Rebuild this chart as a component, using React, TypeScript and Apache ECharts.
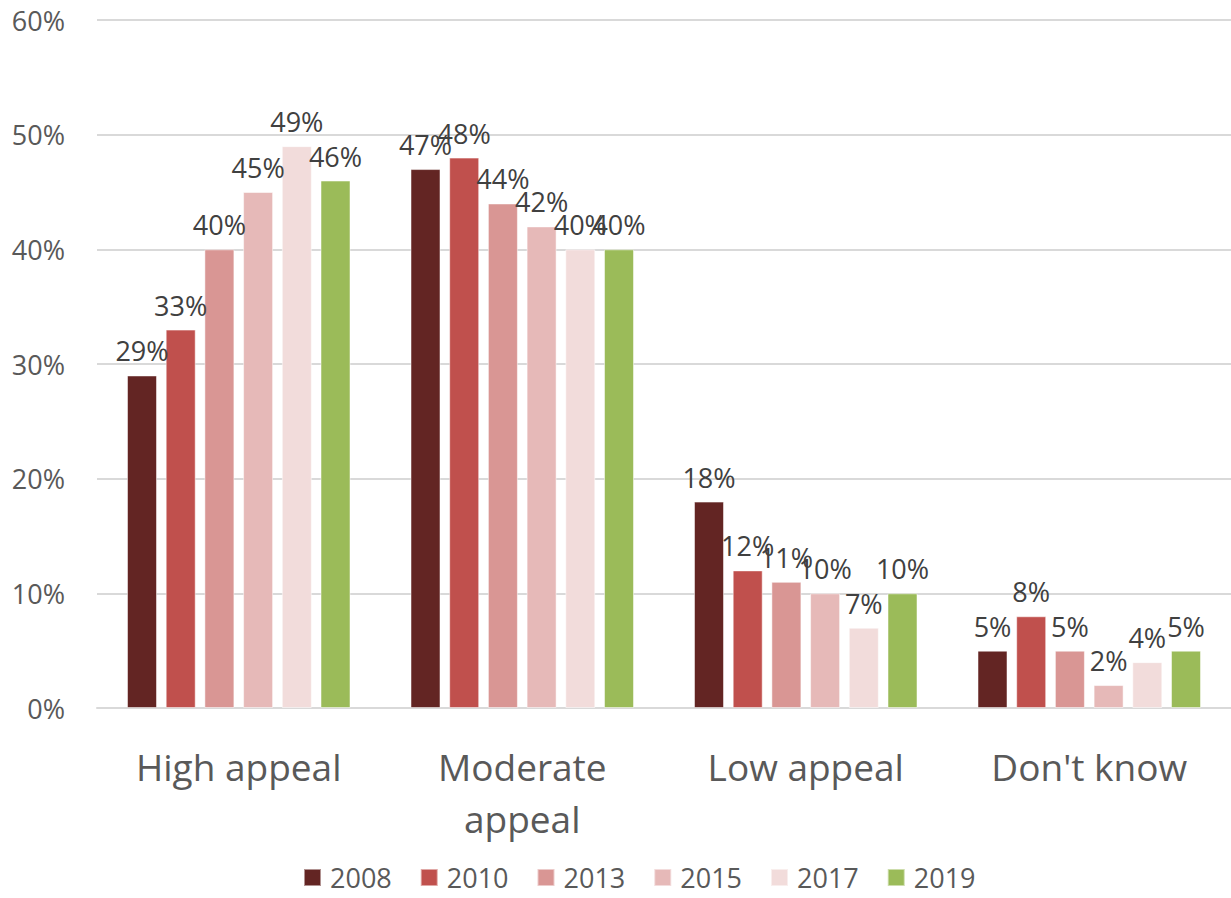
import React, { useEffect, useRef } from "react";
import * as echarts from "echarts";

const categories = ["High appeal", "Moderate\nappeal", "Low appeal", "Don't know"];
const years = ["2008", "2010", "2013", "2015", "2017", "2019"];
const values2008 = [29, 47, 18, 5];
const values2010 = [33, 48, 12, 8];
const values2013 = [40, 44, 11, 5];
const values2015 = [45, 42, 10, 2];
const values2017 = [49, 40, 7, 4];
const values2019 = [46, 40, 10, 5];
const yTicks = [0, 10, 20, 30, 40, 50, 60];
const colors = ["#632523", "#C0504D", "#D99694", "#E6B9B8", "#F2DCDB", "#9BBB59"];

const seriesValues = [values2008, values2010, values2013, values2015, values2017, values2019];

export default function App() {
  const ref = useRef<HTMLDivElement>(null);
  useEffect(() => {
    document.body.style.margin = "0";
    const chart = echarts.init(ref.current!, null, { renderer: "svg" });
    const font = "'Open Sans', sans-serif";
    chart.setOption({
      animation: false,
      textStyle: { fontFamily: font },
      grid: { left: 97, right: 0, top: 20, bottom: 190, containLabel: false },
      legend: {
        data: years,
        left: 298,
        top: 859,
        padding: [5, 5, 0, 5],
        itemWidth: 17,
        itemHeight: 17,
        itemGap: 28,
        icon: "rect",
        textStyle: { fontSize: 27, lineHeight: 27, color: "#595959", fontFamily: font, padding: [0, 0, 0, 4] },
      },
      xAxis: {
        type: "category",
        data: categories,
        axisLine: { lineStyle: { color: "#D9D9D9", width: 2 } },
        axisTick: { show: false },
        axisLabel: {
          fontSize: 37,
          color: "#595959",
          margin: 32,
          lineHeight: 52,
          interval: 0,
          fontFamily: font,
        },
      },
      yAxis: {
        type: "value",
        min: yTicks[0],
        max: yTicks[yTicks.length - 1],
        interval: 10,
        axisLine: { show: false },
        axisTick: { show: false },
        splitLine: { lineStyle: { color: "#D9D9D9", width: 2 } },
        axisLabel: {
          fontSize: 27,
          color: "#595959",
          margin: 32,
          formatter: (v: number) => v + "%",
          fontFamily: font,
        },
      },
      series: years.map((y, i) => ({
        name: y,
        type: "bar",
        data: seriesValues[i],
        barWidth: 30,
        barGap: "29%",
        itemStyle: { color: colors[i], borderColor: "rgba(255,255,255,0.5)", borderWidth: 1 },
        label: {
          show: true,
          position: "top",
          distance: 11,
          formatter: (p: any) => p.value + "%",
          fontSize: 27,
          color: "#404040",
          fontFamily: font,
        },
      })),
    });
    return () => chart.dispose();
  }, []);
  return <div ref={ref} style={{ width: 1231, height: 898 }} />;
}
